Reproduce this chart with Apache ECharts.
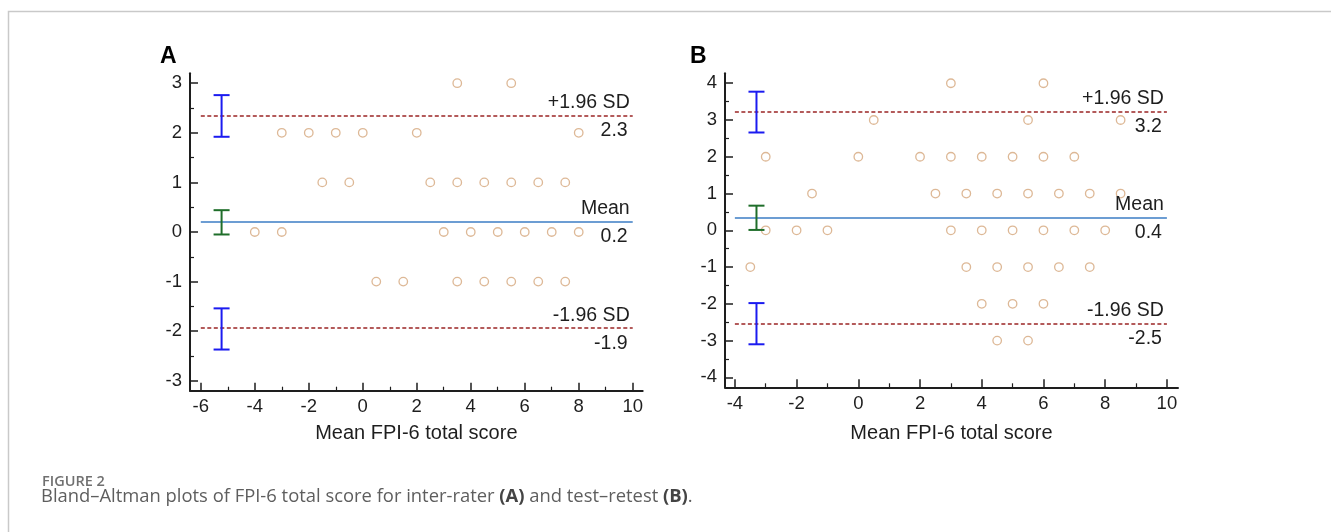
<!DOCTYPE html>
<html><head><meta charset="utf-8">
<script src="https://cdn.jsdelivr.net/npm/echarts@6/dist/echarts.min.js"></script>
<style>html,body{margin:0;padding:0;background:#fff}#c{width:1331px;height:532px}</style>
</head><body><div id="c"></div>
<script>
// ---------- Panel A (inter-rater) ----------
const meanA = [3.5, 5.5, -3, -2, -1, 0, 2, 8, -1.5, -0.5, 2.5, 3.5, 4.5, 5.5, 6.5, 7.5, -4, -3, 3, 4, 5, 6, 7, 8, 0.5, 1.5, 3.5, 4.5, 5.5, 6.5, 7.5];
const diffA = [3, 3, 2, 2, 2, 2, 2, 2, 1, 1, 1, 1, 1, 1, 1, 1, 0, 0, 0, 0, 0, 0, 0, 0, -1, -1, -1, -1, -1, -1, -1];
const limitsA = [2.34, 0.2, -1.94];
const limitLabelsA = ['2.3', '0.2', '-1.9'];
const ciLowA = [1.92, -0.05, -2.37];
const ciHighA = [2.76, 0.44, -1.54];
const ciXA = -5.23;
const lineSpanA = [-6, 10];
const xRangeA = [-6.4, 10.37];
const yRangeA = [-3.2, 3.2];
const xTicksA = [-6, -4, -2, 0, 2, 4, 6, 8, 10];
const xMinorA = [-5, -3, -1, 1, 3, 5, 7, 9];
const yTicksA = [-3, -2, -1, 0, 1, 2, 3];
const yMinorA = [-2.5, -1.5, -0.5, 0.5, 1.5, 2.5];

// ---------- Panel B (test-retest) ----------
const meanB = [3, 6, 0.5, 5.5, 8.5, -3, 0, 2, 3, 4, 5, 6, 7, -1.5, 2.5, 3.5, 4.5, 5.5, 6.5, 7.5, 8.5, -3, -2, -1, 3, 4, 5, 6, 7, 8, -3.5, 3.5, 4.5, 5.5, 6.5, 7.5, 4, 5, 6, 4.5, 5.5];
const diffB = [4, 4, 3, 3, 3, 2, 2, 2, 2, 2, 2, 2, 2, 1, 1, 1, 1, 1, 1, 1, 1, 0, 0, 0, 0, 0, 0, 0, 0, 0, -1, -1, -1, -1, -1, -1, -2, -2, -2, -3, -3];
const limitsB = [3.22, 0.35, -2.53];
const limitLabelsB = ['3.2', '0.4', '-2.5'];
const ciLowB = [2.66, 0.01, -3.1];
const ciHighB = [3.77, 0.67, -1.98];
const ciXB = -3.3;
const lineSpanB = [-4, 10];
const xRangeB = [-4.32, 10.36];
const yRangeB = [-4.27, 4.27];
const xTicksB = [-4, -2, 0, 2, 4, 6, 8, 10];
const xMinorB = [-3, -1, 1, 3, 5, 7, 9];
const yTicksB = [-4, -3, -2, -1, 0, 1, 2, 3, 4];
const yMinorB = [-3.5, -2.5, -1.5, -0.5, 0.5, 1.5, 2.5, 3.5];

const limitNames = ['+1.96 SD', 'Mean', '-1.96 SD'];
const xTitle = 'Mean FPI-6 total score';

// ---------- styles ----------
const FONT = "'Liberation Sans', Arial, sans-serif";
const AX = '#1e1e1e';
const limitLineColors = ['#9b2424', '#3b7cc4', '#9b2424'];
const limitLineTypes = [[4, 2.5], 'solid', [4, 2.5]];
const ciColors = ['#1b1bf0', '#1f6e2a', '#1b1bf0'];
const pointColor = '#d5a67c';

function zip(a, b) { return a.map((v, i) => [v, b[i]]); }

function majorX(grid, range, ticks, nameGap) {
  return {
    gridIndex: grid, type: 'value', min: range[0], max: range[1], position: 'bottom',
    name: xTitle, nameLocation: 'middle', nameGap: nameGap,
    nameTextStyle: { fontFamily: FONT, fontSize: 20, color: AX },
    axisLine: { show: true, onZero: false, lineStyle: { color: AX, width: 2 } },
    axisTick: { show: true, inside: true, length: 8, customValues: ticks, lineStyle: { color: AX, width: 1.5 } },
    axisLabel: { show: true, customValues: ticks, margin: 7, fontFamily: FONT, fontSize: 18.5, color: AX },
    splitLine: { show: false }
  };
}
function minorX(grid, range, ticks) {
  return {
    gridIndex: grid, type: 'value', min: range[0], max: range[1], position: 'bottom', offset: 0,
    axisLine: { show: false, onZero: false },
    axisTick: { show: true, inside: true, length: 4, customValues: ticks, lineStyle: { color: AX, width: 1.2 } },
    axisLabel: { show: false }, splitLine: { show: false }
  };
}
function majorY(grid, range, ticks) {
  return {
    gridIndex: grid, type: 'value', min: range[0], max: range[1], position: 'left',
    axisLine: { show: true, onZero: false, lineStyle: { color: AX, width: 2 } },
    axisTick: { show: true, inside: true, length: 8, customValues: ticks, lineStyle: { color: AX, width: 1.5 } },
    axisLabel: { show: true, customValues: ticks, margin: 8, fontFamily: FONT, fontSize: 18.5, color: AX },
    splitLine: { show: false }
  };
}
function minorY(grid, range, ticks) {
  return {
    gridIndex: grid, type: 'value', min: range[0], max: range[1], position: 'left', offset: 0,
    axisLine: { show: false, onZero: false },
    axisTick: { show: true, inside: true, length: 4, customValues: ticks, lineStyle: { color: AX, width: 1.2 } },
    axisLabel: { show: false }, splitLine: { show: false }
  };
}

function limitMarkLines(limits, labels, span) {
  const data = [];
  limits.forEach((v, i) => {
    data.push([
      { coord: [span[0], v], lineStyle: { color: limitLineColors[i], type: limitLineTypes[i], width: 1.6 },
        label: { show: true, position: 'insideEndTop', formatter: limitNames[i], distance: 3, color: AX } },
      { coord: [span[1], v] }
    ]);
    data.push([
      { coord: [span[0], v], lineStyle: { color: 'rgba(0,0,0,0)', width: 0 },
        label: { show: true, position: 'insideEndBottom', formatter: labels[i], distance: 5, color: AX } },
      { coord: [span[1], v] }
    ]);
  });
  return {
    symbol: 'none', silent: true, animation: false,
    label: { fontFamily: FONT, fontSize: 19.5, color: AX },
    emphasis: { disabled: true },
    data: data
  };
}

function ciSeries(xi, yi, cx, lows, highs) {
  return {
    type: 'custom', xAxisIndex: xi, yAxisIndex: yi, silent: true, animation: false, z: 5,
    data: lows.map((l, i) => [cx, l, highs[i]]),
    renderItem: function (params, api) {
      const lo = api.coord([api.value(0), api.value(1)]);
      const hi = api.coord([api.value(0), api.value(2)]);
      const w = 8;
      const st = { stroke: ciColors[params.dataIndex], lineWidth: 2 };
      return {
        type: 'group', children: [
          { type: 'line', shape: { x1: lo[0], y1: lo[1], x2: hi[0], y2: hi[1] }, style: st },
          { type: 'line', shape: { x1: lo[0] - w, y1: lo[1], x2: lo[0] + w, y2: lo[1] }, style: st },
          { type: 'line', shape: { x1: hi[0] - w, y1: hi[1], x2: hi[0] + w, y2: hi[1] }, style: st }
        ]
      };
    }
  };
}

function scatterSeries(xi, yi, xs, ys, limits, labels, span) {
  return {
    type: 'scatter', xAxisIndex: xi, yAxisIndex: yi, animation: false,
    symbol: 'circle', symbolSize: 8.5,
    itemStyle: { color: 'rgba(255,255,255,0)', borderColor: pointColor, borderWidth: 1.3 },
    data: zip(xs, ys),
    markLine: limitMarkLines(limits, labels, span)
  };
}

const chart = echarts.init(document.getElementById('c'), null, { renderer: 'canvas' });
chart.setOption({
  backgroundColor: '#ffffff',
  animation: false,
  title: [
    { text: 'A', left: 155, top: 40, textStyle: { fontFamily: FONT, fontSize: 23, fontWeight: 'bold', color: '#000' } },
    { text: 'B', left: 685, top: 40, textStyle: { fontFamily: FONT, fontSize: 23, fontWeight: 'bold', color: '#000' } }
  ],
  grid: [
    { left: 190, top: 73.3, width: 452.7, height: 317.4 },
    { left: 725, top: 73.3, width: 453, height: 314 }
  ],
  xAxis: [
    majorX(0, xRangeA, xTicksA, 33), minorX(0, xRangeA, xMinorA),
    majorX(1, xRangeB, xTicksB, 36), minorX(1, xRangeB, xMinorB)
  ],
  yAxis: [
    majorY(0, yRangeA, yTicksA), minorY(0, yRangeA, yMinorA),
    majorY(1, yRangeB, yTicksB), minorY(1, yRangeB, yMinorB)
  ],
  series: [
    scatterSeries(0, 0, meanA, diffA, limitsA, limitLabelsA, lineSpanA),
    ciSeries(0, 0, ciXA, ciLowA, ciHighA),
    scatterSeries(2, 2, meanB, diffB, limitsB, limitLabelsB, lineSpanB),
    ciSeries(2, 2, ciXB, ciLowB, ciHighB)
  ],
  graphic: [
    { type: 'polyline', silent: true, shape: { points: [[8.5, 532], [8.5, 11.5], [1331, 11.5]] },
      style: { stroke: '#c9c9c9', lineWidth: 1.5, fill: null } },
    { type: 'text', left: 42, top: 474, silent: true,
      style: { text: 'FIGURE 2', font: '600 14.5px "Open Sans", sans-serif', fill: '#707070' } },
    { type: 'text', left: 41, top: 488, silent: true,
      style: {
        text: 'Bland\u2013Altman plots of FPI-6 total score for inter-rater {b|(A)} and test\u2013retest {b|(B)}.',
        font: '18.4px "Open Sans", sans-serif', fill: '#5e5e5e',
        rich: { b: { fontFamily: 'Open Sans', fontSize: 18.4, fontWeight: 'bold', fill: '#444', color: '#444' } }
      } }
  ]
});
</script>
</body></html>
